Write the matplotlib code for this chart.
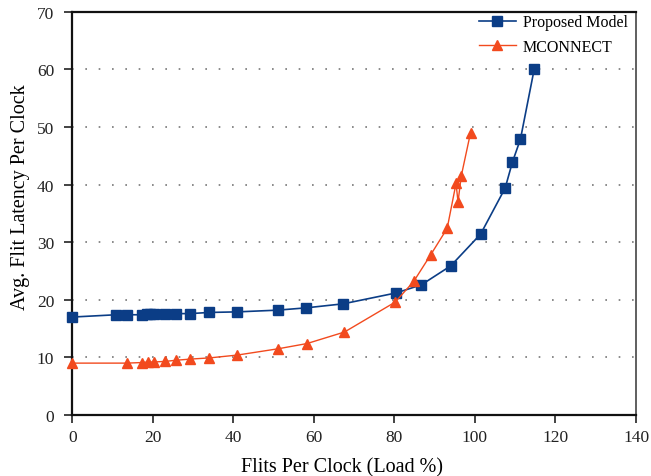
import matplotlib
matplotlib.use("Agg")
import matplotlib.pyplot as plt

# Data
proposed_x = [0, 10.9, 13.5, 17.3, 18.5, 19.4, 20.3, 23.1, 25.8, 29.3, 34.0, 41.0,
              51.0, 58.1, 67.3, 80.5, 86.7, 94.0, 101.4, 107.5, 109.3, 111.3, 114.7]
proposed_y = [17.0, 17.4, 17.4, 17.4, 17.5, 17.5, 17.5, 17.6, 17.6, 17.6, 17.8, 17.9,
              18.2, 18.6, 19.3, 21.2, 22.6, 25.9, 31.4, 39.4, 43.9, 47.9, 60.0]

mconnect_x = [0, 13.5, 17.3, 18.9, 20.4, 23.1, 25.8, 29.3, 34.0, 41.0, 51.2, 58.3,
              67.6, 80.2, 84.8, 89.0, 93.1, 95.3, 95.8, 96.6, 98.9]
mconnect_y = [9.0, 9.0, 9.1, 9.2, 9.2, 9.3, 9.5, 9.7, 9.9, 10.4, 11.5, 12.4,
              14.4, 19.6, 23.2, 27.8, 32.4, 40.2, 37.0, 41.5, 49.0]

x_ticks = [0, 20, 40, 60, 80, 100, 120, 140]
y_ticks = [0, 10, 20, 30, 40, 50, 60, 70]

plt.rcParams['font.family'] = ['Liberation Serif', 'DejaVu Serif']

fig = plt.figure(figsize=(6.51, 4.77), dpi=100)
ax = fig.add_axes([0.111, 0.128, 0.866, 0.845])

blue = '#0b3d86'
orange = '#f24a1e'

ax.plot(proposed_x, proposed_y, color=blue, lw=1.2, marker='s', ms=6.5,
        mfc=blue, mec=blue, label='Proposed Model', zorder=3, clip_on=False)
ax.plot(mconnect_x, mconnect_y, color=orange, lw=1.0, marker='^', ms=7,
        mfc=orange, mec=orange, label='MCONNECT', zorder=3, clip_on=False)

ax.set_xlim(0, 140)
ax.set_ylim(0, 70)
ax.set_xticks(x_ticks)
ax.set_yticks(y_ticks)
ax.tick_params(direction='out', length=6, width=1.2, labelsize=12.5, colors='#222222')
ax.tick_params(axis='y', pad=7)
ax.tick_params(axis='x', pad=4)

for g in y_ticks[1:-1]:
    ax.axhline(g, color='#777777', lw=1.2, linestyle=(0, (1, 7)), zorder=1)

for s in ['left', 'bottom', 'top']:
    ax.spines[s].set_linewidth(1.6)
    ax.spines[s].set_color('#111111')
ax.spines['right'].set_linewidth(1.2)
ax.spines['right'].set_color('#444444')

ax.set_xlabel('Flits Per Clock (Load %)', fontsize=14.5, labelpad=9)
ax.set_ylabel('Avg. Flit Latency Per Clock', fontsize=14.5, labelpad=5)
ax.xaxis.label.set_x(0.479)
ax.yaxis.label.set_y(0.542)

ax.legend(loc='upper right', frameon=False, fontsize=11.5, handlelength=2.3,
          borderaxespad=0.0, labelspacing=0.55, handletextpad=0.45,
          bbox_to_anchor=(0.997, 1.01))

fig.savefig('out.png', dpi=100)
